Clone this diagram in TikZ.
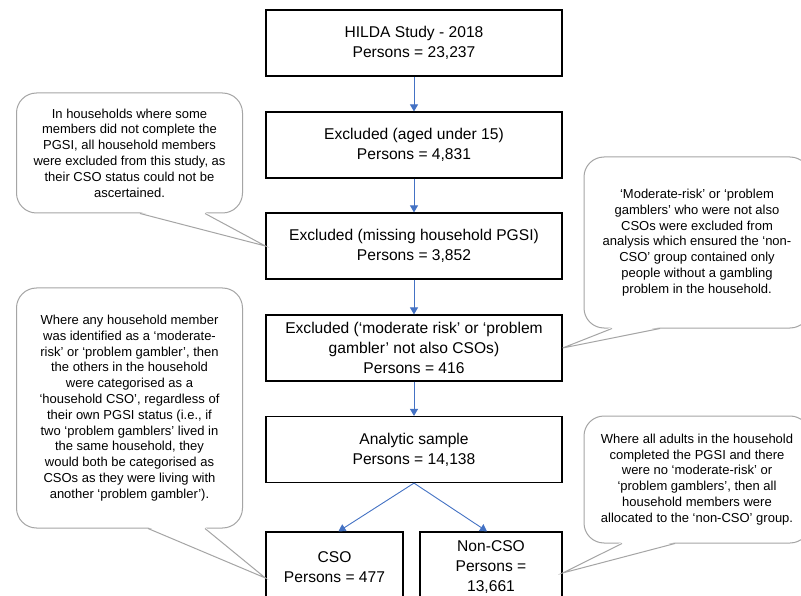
\documentclass[tikz,border=0pt]{standalone}
\usepackage{fontspec}
\setmainfont{Liberation Sans}
\usetikzlibrary{arrows.meta,calc}
\definecolor{notegray}{RGB}{165,165,165}
\definecolor{flowblue}{RGB}{68,114,196}
\begin{document}
\begin{tikzpicture}[x=1pt,y=-1pt,
  box/.style={draw=black, line width=1.2pt, minimum width=296pt, minimum height=66pt,
    align=center, inner sep=0pt, font=\fontsize{15.6}{20}\selectfont},
  note/.style={draw=notegray, line width=1pt, fill=white, rounded corners=20pt,
    align=center, inner sep=0pt, minimum width=226pt, font=\fontsize{13}{15.8}\selectfont},
  flow/.style={draw=flowblue, line width=0.9pt, -{Triangle[width=8pt,length=7pt]}},
  pointer/.style={draw=notegray, line width=1pt, line join=miter}]
\useasboundingbox (0,0) rectangle (801,596);
\fill[white] (0,0) rectangle (801,596);
\clip (0,0) rectangle (801,596);

% callouts
\node[note, minimum height=120pt] (n1) at (129.5,153)
  {In households where some\\members did not complete the\\PGSI, all household members\\were excluded from this study, as\\their CSO status could not be\\ascertained.};
\node[note, minimum height=171pt] (n2) at (697,242.5)
  {‘Moderate-risk’ or ‘problem\\gamblers’ who were not also\\CSOs were excluded from\\analysis which ensured the ‘non-\\CSO’ group contained only\\people without a gambling\\problem in the household.};
\node[note, minimum height=240pt] (n3) at (129.5,408)
  {Where any household member\\was identified as a ‘moderate-\\risk’ or ‘problem gambler’, then\\the others in the household\\were categorised as a\\‘household CSO’, regardless of\\their own PGSI status (i.e., if\\two ‘problem gamblers’ lived in\\the same household, they\\would both be categorised as\\CSOs as they were living with\\another ‘problem gambler’).};
\node[note, minimum height=127pt] (n4) at (697,479.5)
  {Where all adults in the household\\completed the PGSI and there\\were no ‘moderate-risk’ or\\‘problem gamblers’, then all\\household members were\\allocated to the ‘non-CSO’ group.};

% boxes
\node[box] (b1) at (414,43) {HILDA Study - 2018\\Persons = 23,237};
\node[box] (b2) at (414,145) {Excluded (aged under 15)\\Persons = 4,831};
\node[box] (b3) at (414,246) {Excluded (missing household PGSI)\\Persons = 3,852};
\node[box] (b4) at (414,348) {Excluded (‘moderate risk’ or ‘problem\\gambler’ not also CSOs)\\Persons = 416};
\node[box] (b5) at (414,449.5) {Analytic sample\\Persons = 14,138};
\node[box, minimum width=137pt, minimum height=70pt] (cso) at (334.5,567) {CSO\\Persons = 477};
\node[box, minimum width=142pt, minimum height=70pt] (ncso) at (491,567) {Non-CSO\\Persons =\\13,661};

% pointer tips
\coordinate (t1) at (b3.west);
\coordinate (t2) at (b4.east);
\coordinate (t3) at ([yshift=-11pt]cso.west);
\coordinate (t4) at ([yshift=-6pt]ncso.east);

% pointers
\fill[white] ([xshift=10.5pt,yshift=1.5pt]n1.south) -- (t1) -- ([xshift=75.5pt,yshift=1.5pt]n1.south) -- cycle;
\draw[pointer] ([xshift=10.5pt]n1.south) -- (t1) -- ([xshift=75.5pt]n1.south);
\fill[white] ([xshift=-85pt,yshift=1.5pt]n2.south) -- (t2) -- ([xshift=-37pt,yshift=1.5pt]n2.south) -- cycle;
\draw[pointer] ([xshift=-85pt]n2.south) -- (t2) -- ([xshift=-37pt]n2.south);
\fill[white] ([xshift=18.5pt,yshift=1.5pt]n3.south) -- (t3) -- ([xshift=75.5pt,yshift=1.5pt]n3.south) -- cycle;
\draw[pointer] ([xshift=18.5pt]n3.south) -- (t3) -- ([xshift=75.5pt]n3.south);
\fill[white] ([xshift=-75pt,yshift=1.5pt]n4.south) -- (t4) -- ([xshift=-22pt,yshift=1.5pt]n4.south) -- cycle;
\draw[pointer] ([xshift=-75pt]n4.south) -- (t4) -- ([xshift=-22pt]n4.south);

% flow arrows
\draw[flow] (b1.south) -- (b2.north);
\draw[flow] (b2.south) -- (b3.north);
\draw[flow] (b3.south) -- (b4.north);
\draw[flow] (b4.south) -- (b5.north);
\draw[flow] (b5.south) -- ([xshift=4pt]cso.north);
\draw[flow] (b5.south) -- ([xshift=-4pt]ncso.north);
\end{tikzpicture}
\end{document}
